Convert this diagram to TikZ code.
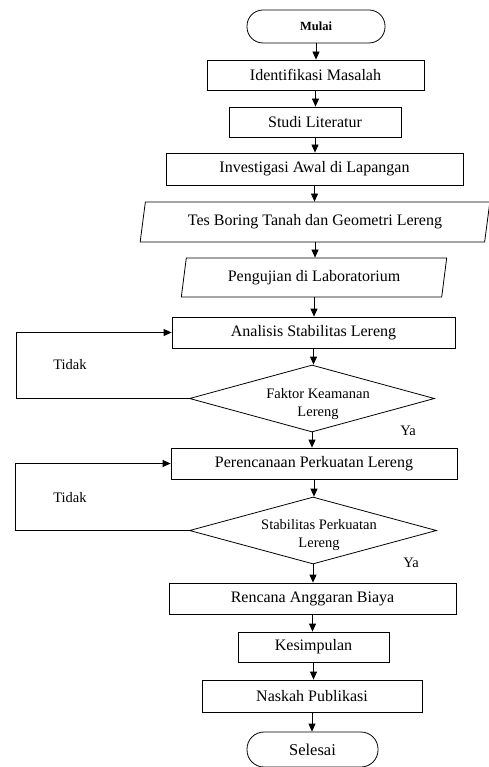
\documentclass[tikz,border=0pt]{standalone}
\usepackage{fontspec}
\setmainfont{Liberation Serif}
\usetikzlibrary{shapes.geometric,arrows.meta}
\begin{document}
\begin{tikzpicture}[x=1pt,y=-1pt,
  box/.style={draw, rectangle, line width=0.8pt, inner sep=0pt, font=\fontsize{16}{19}\selectfont},
  io/.style={draw, trapezium, trapezium stretches=true, line width=0.8pt, inner sep=0pt, font=\fontsize{16}{19}\selectfont},
  term/.style={draw, rectangle, line width=0.8pt, inner sep=0pt},
  dec/.style={draw, diamond, line width=0.8pt, inner sep=0pt},
  dectext/.style={inner sep=0pt, align=center, font=\fontsize{14.5}{18}\selectfont},
  lbl/.style={inner sep=0pt, font=\fontsize{14.5}{17}\selectfont},
  arr/.style={-{Triangle[length=8pt,width=7pt]}, line width=0.8pt}]
\useasboundingbox (0,0) rectangle (489,767);
\node[term, rounded corners=16pt, minimum width=138pt, minimum height=33pt, font=\fontsize{12.5}{14}\selectfont\bfseries] (mulai) at (316,26.5) {Mulai};
\node[box, minimum width=217pt, minimum height=30pt] (iden) at (315.5,75) {Identifikasi Masalah};
\node[box, minimum width=172pt, minimum height=30pt] (studi) at (315,122) {Studi Literatur};
\node[box, minimum width=297pt, minimum height=32pt] (inv) at (314.5,169) {Investigasi Awal di Lapangan};
\node[io, trapezium left angle=75, trapezium right angle=105, minimum width=350pt, minimum height=40pt] (tes) at (315,222) {Tes Boring Tanah dan Geometri Lereng};
\node[io, trapezium left angle=77, trapezium right angle=103, minimum width=266pt, minimum height=39pt] (uji) at (314,277.5) {Pengujian di Laboratorium};
\node[box, minimum width=283pt, minimum height=31pt] (ana) at (313.5,332.5) {Analisis Stabilitas Lereng};
\node[dec, aspect=3.66, minimum width=245pt, minimum height=67pt] (d1) at (312,398.5) {};
\node[dectext] (d1t) at ([xshift=6pt,yshift=-6pt]d1.center) {Faktor Keamanan\\Lereng};
\node[box, minimum width=286pt, minimum height=31pt] (per) at (314,463.5) {Perencanaan Perkuatan Lereng};
\node[dec, aspect=3.66, minimum width=247pt, minimum height=67pt] (d2) at (313,530.5) {};
\node[dectext] (d2t) at ([xshift=6pt,yshift=-5pt]d2.center) {Stabilitas Perkuatan\\Lereng};
\node[box, minimum width=287pt, minimum height=31pt] (rab) at (312.5,598.5) {Rencana Anggaran Biaya};
\node[box, minimum width=151pt, minimum height=30pt] (kes) at (313.5,647) {Kesimpulan};
\node[box, minimum width=220pt, minimum height=32pt] (nas) at (312,696) {Naskah Publikasi};
\node[term, rounded corners=17pt, minimum width=131pt, minimum height=35pt, font=\fontsize{16.5}{19}\selectfont] (sel) at (312.5,749.5) {Selesai};
\node[lbl] (t1) at (70,365) {Tidak};
\node[lbl] (t2) at (70,498) {Tidak};
\node[lbl] (y1) at (408,431) {Ya};
\node[lbl] (y2) at (411,563) {Ya};
\coordinate (L1) at (16,0);
\coordinate (L2) at (15,0);
\draw[arr] (mulai.south) -- (mulai.south |- iden.north);
\draw[arr] (iden.south) -- (iden.south |- studi.north);
\draw[arr] (studi.south) -- (studi.south |- inv.north);
\draw[arr] (inv.south) -- (inv.south |- tes.north);
\draw[arr] (tes.south) -- (tes.south |- uji.north);
\draw[arr] (uji.south) -- (uji.south |- ana.north);
\draw[arr] (ana.south) -- (ana.south |- d1.north);
\draw[arr] (d1.south) -- (d1.south |- per.north);
\draw[arr] (per.south) -- (per.south |- d2.north);
\draw[arr] (d2.south) -- (d2.south |- rab.north);
\draw[arr] (rab.south) -- (rab.south |- kes.north);
\draw[arr] (kes.south) -- (kes.south |- nas.north);
\draw[arr] (nas.south) -- (nas.south |- sel.north);
\draw[arr] (d1.west) -- (d1.west -| L1) |- (ana.west);
\draw[arr] (d2.west) -- (d2.west -| L2) |- (per.west);
\end{tikzpicture}
\end{document}
